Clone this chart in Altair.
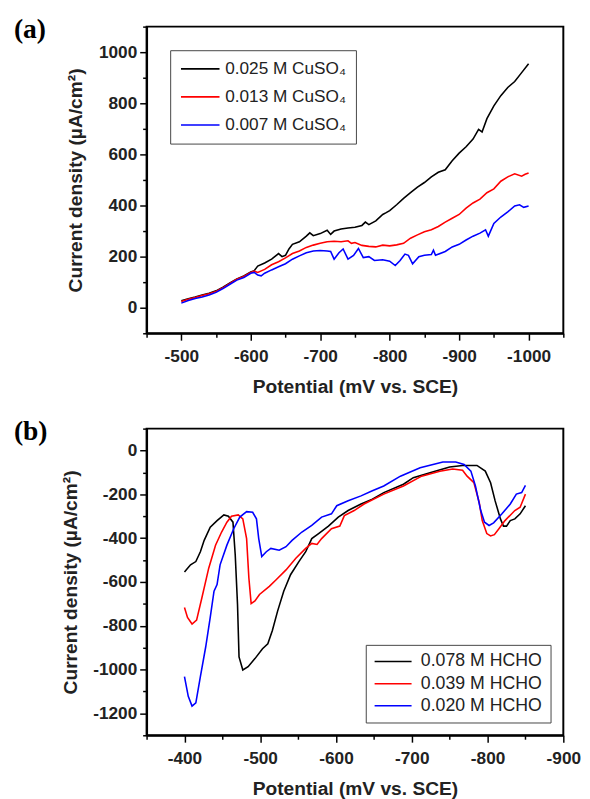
import altair as alt
import pandas as pd

# ---------------- Panel (a): CuSO4 concentration ----------------
a_names = ["0.025 M CuSO\u2084", "0.013 M CuSO\u2084", "0.007 M CuSO\u2084"]

a1_x = [-500, -510, -520, -530, -540, -550, -560, -570, -580, -590, -600, -605, -610, -620, -630, -640,
        -645, -650, -655, -660, -670, -680, -685, -690, -700, -710, -715, -720, -730, -740, -750, -760,
        -765, -770, -780, -790, -795, -800, -810, -820, -830, -840, -850, -860, -870, -880, -890, -900,
        -910, -920, -928, -933, -940, -950, -960, -970, -980, -990, -1000]
a1_y = [27, 35, 42, 50, 57, 66, 80, 97, 113, 124, 140, 145, 163, 175, 190, 212,
        200, 205, 230, 248, 258, 280, 293, 282, 290, 303, 287, 300, 308, 312, 315, 322,
        335, 325, 340, 365, 372, 380, 403, 428, 450, 472, 490, 512, 530, 540, 575, 605,
        630, 660, 698, 688, 740, 790, 830, 862, 885, 920, 955]

a2_x = [-500, -510, -520, -530, -540, -550, -560, -570, -580, -590, -600, -605, -610, -620, -630, -640,
        -650, -660, -670, -680, -690, -700, -710, -720, -730, -740, -745, -750, -760, -770, -780, -790,
        -800, -810, -820, -830, -840, -850, -860, -870, -880, -890, -900, -910, -920, -930, -940, -950,
        -960, -970, -980, -990, -995, -1000]
a2_y = [24, 33, 40, 48, 55, 64, 78, 95, 112, 122, 138, 143, 138, 150, 168, 180,
        195, 212, 222, 236, 245, 252, 258, 260, 258, 262, 252, 255, 244, 240, 238, 245,
        242, 246, 252, 272, 285, 297, 305, 318, 335, 350, 365, 390, 410, 425, 450, 465,
        495, 512, 524, 515, 522, 527]

a3_x = [-500, -510, -520, -530, -540, -550, -560, -570, -580, -590, -600, -605, -610, -615, -620, -630,
        -640, -650, -660, -670, -680, -690, -700, -710, -715, -720, -727, -733, -740, -748, -755, -762,
        -770, -778, -790, -800, -808, -815, -822, -827, -833, -842, -850, -860, -863, -866, -880, -890,
        -900, -910, -920, -930, -938, -942, -950, -960, -970, -980, -987, -993, -1000]
a3_y = [18, 28, 36, 42, 50, 60, 75, 92, 108, 118, 135, 138, 128, 125, 135, 148,
        160, 172, 190, 203, 215, 222, 224, 222, 220, 190, 215, 230, 190, 205, 232, 196,
        200, 185, 188, 182, 165, 185, 210, 205, 172, 200, 205, 208, 225, 205, 220, 238,
        248, 265, 280, 292, 305, 280, 330, 355, 375, 398, 403, 393, 398]

# ---------------- Panel (b): HCHO concentration ----------------
b_names = ["0.078 M HCHO", "0.039 M HCHO", "0.020 M HCHO"]

b1_x = [-400, -408, -415, -421, -426, -434, -443, -452, -458, -464, -467, -470, -472, -477, -484, -493,
        -503, -510, -516, -523, -531, -540, -551, -560, -568, -577, -590, -603, -616, -633, -648, -663,
        -689, -702, -724, -750, -767, -786, -797, -804, -810, -817, -821, -825, -830, -836, -843, -850]
b1_y = [-555, -522, -507, -462, -410, -350, -320, -294, -300, -327, -477, -702, -942, -1002, -987, -950,
        -905, -882, -822, -732, -642, -567, -507, -462, -402, -379, -345, -304, -274, -244, -222, -192,
        -154, -124, -102, -75, -68, -68, -94, -147, -230, -312, -345, -345, -320, -312, -289, -252]

b2_x = [-400, -404, -410, -416, -423, -432, -441, -449, -456, -462, -471, -477, -482, -485, -488, -493,
        -499, -512, -521, -534, -547, -560, -568, -575, -581, -594, -605, -611, -624, -637, -663, -689,
        -713, -737, -754, -767, -773, -782, -789, -793, -799, -804, -809, -815, -823, -836, -843, -850]
b2_y = [-717, -762, -792, -774, -672, -537, -432, -372, -327, -300, -294, -312, -402, -582, -699, -687,
        -657, -620, -590, -545, -492, -447, -424, -429, -402, -357, -345, -297, -274, -244, -199, -162,
        -117, -95, -84, -90, -117, -147, -237, -320, -379, -390, -384, -357, -320, -274, -259, -199]

b3_x = [-400, -405, -410, -415, -421, -428, -434, -439, -443, -447, -456, -465, -473, -482, -490, -495,
        -498, -502, -508, -514, -525, -534, -542, -555, -568, -581, -594, -601, -616, -633, -648, -663,
        -685, -711, -741, -758, -769, -778, -784, -791, -796, -802, -808, -819, -830, -838, -845, -850]
b3_y = [-1032, -1122, -1167, -1152, -1032, -897, -762, -642, -612, -522, -432, -357, -304, -279, -282, -312,
        -402, -484, -462, -447, -455, -439, -410, -372, -342, -304, -289, -252, -229, -207, -184, -162,
        -117, -79, -52, -52, -64, -94, -162, -274, -327, -342, -330, -289, -244, -199, -192, -159]

line_colors = ["#000000", "#ff0000", "#0000ff"]
x_title = "Potential (mV vs. SCE)"
y_title = "Current density (\u00b5A/cm\u00b2)"

FONT = "Liberation Sans"
TXT = "#222222"


def long_df(series):
    rows = []
    for name, xs, ys in series:
        for x, y in zip(xs, ys):
            rows.append({"series": name, "E": x, "J": y})
    return pd.DataFrame(rows)


def mk_axis(values, mod, title, is_x):
    return alt.Axis(
        values=values,
        title=title,
        orient="bottom" if is_x else "left",
        labelExpr=f"datum.value % {mod} === 0 ? '' + datum.value : ''",
        tickSize={"condition": {"test": f"datum.value % {mod} === 0", "value": 7}, "value": 4},
        labelPadding=8 if is_x else 3,
        titlePadding=13 if is_x else 13,
        labelFlush=False,
        labelOverlap=False,
    )


def panel(df, names, xdom, ydom, xvals, yvals, xmod, ymod, legend, tag):
    lines = alt.Chart(df).mark_line(strokeWidth=1.6, clip=True).encode(
        x=alt.X("E:Q", scale=alt.Scale(domain=xdom, nice=False, zero=False),
                axis=mk_axis(xvals, xmod, x_title, True)),
        y=alt.Y("J:Q", scale=alt.Scale(domain=ydom, nice=False, zero=False),
                axis=mk_axis(yvals, ymod, y_title, False)),
        color=alt.Color("series:N", scale=alt.Scale(domain=names, range=line_colors), legend=legend),
    )
    label = alt.Chart(pd.DataFrame({"t": [tag]})).mark_text(
        font="Liberation Serif", fontSize=28, fontWeight="bold", align="left",
        baseline="alphabetic", color="black"
    ).encode(text="t:N", x=alt.value(-135), y=alt.value(12))
    return alt.layer(lines, label).properties(width=424, height=312)


leg_a = alt.Legend(
    title=None, orient="top-left", offset=24, symbolType="M-1,0L3.9,0", symbolSize=256,
    symbolStrokeWidth=1.6, labelFont=FONT, labelFontSize=17.5, labelColor=TXT, labelOffset=28,
    rowPadding=10.5, padding=10, strokeColor="#444444", fillColor="white", labelLimit=400,
)
leg_b = alt.Legend(
    title=None, orient="bottom-right", offset=13, symbolType="M-1,0L3.7,0", symbolSize=256,
    symbolStrokeWidth=1.6, labelFont=FONT, labelFontSize=18, labelColor=TXT, labelOffset=30,
    rowPadding=4.5, padding=8, strokeColor="#444444", fillColor="white", labelLimit=400,
)

df_a = long_df([(a_names[0], a1_x, a1_y), (a_names[1], a2_x, a2_y), (a_names[2], a3_x, a3_y)])
df_b = long_df([(b_names[0], b1_x, b1_y), (b_names[1], b2_x, b2_y), (b_names[2], b3_x, b3_y)])

top = panel(df_a, a_names, [-450, -1050], [-100, 1100],
            list(range(-450, -1051, -50)), list(range(-100, 1101, 100)), 100, 200, leg_a, "(a)")
bottom = panel(df_b, b_names, [-350, -900], [-1300, 100],
               list(range(-350, -901, -50)), list(range(-1300, 101, 100)), 100, 200, leg_b, "(b)")

chart = alt.vconcat(top, bottom, spacing=21).resolve_scale(color="independent").configure_view(
    stroke="black", strokeWidth=2
).configure_axis(
    domainColor="black", domainWidth=2, tickColor="black", tickWidth=1.5, grid=False,
    labelFont=FONT, labelFontSize=17.5, labelFontWeight="bold", labelColor=TXT,
    titleFont=FONT, titleFontSize=19.5, titleFontWeight="bold", titleColor=TXT,
).properties(padding={"left": 5, "top": 1, "right": 0, "bottom": 0})

chart.save("out.html", embed_options={"renderer": "svg", "actions": False})
